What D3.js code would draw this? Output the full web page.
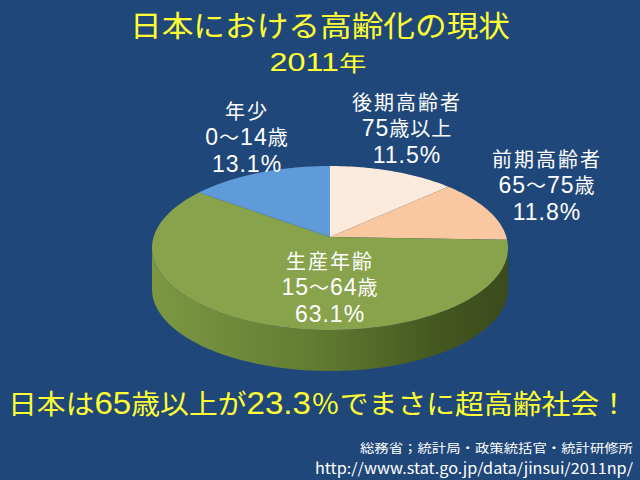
<!DOCTYPE html>
<html><head><meta charset="utf-8">
<script src="https://cdn.jsdelivr.net/npm/d3@7"></script>
<style>
html,body{margin:0;padding:0;background:#1f4779;}
svg{display:block;}
text{font-family:"Noto Sans CJK JP","Noto Sans",sans-serif;}
</style></head>
<body>
<script>
// ---- data ----
const categories = ["後期高齢者", "前期高齢者", "生産年齢", "年少"];
const ageRanges = ["75歳以上", "65～75歳", "15～64歳", "0～14歳"];
const values = [11.5, 11.8, 63.1, 13.1];
const title = "日本における高齢化の現状";
const subtitle = "2011年";
const message = "日本は65歳以上が23.3％でまさに超高齢社会！";
const sourceLines = ["総務省；統計局・政策統括官・統計研修所", "http://www.stat.go.jp/data/jinsui/2011np/"];

// ---- styles ----
const colors = ["#fcebdd", "#f9c8a0", "#89a24c", "#5f9bd8"];
const W = 640, H = 480;
const cx = 330, cy = 248, rx = 178, ry = 82, depth = 41;
const apex = [330, 237];
const labelPos = [[407, 103], [547, 160], [330, 262], [247, 112]];
const LATIN = "'Liberation Sans', Arial, sans-serif";

const svg = d3.select("body").append("svg").attr("width", W).attr("height", H);
svg.append("rect").attr("width", W).attr("height", H).attr("fill", "#1f4779");

const defs = svg.append("defs");
const grad = defs.append("linearGradient").attr("id", "side").attr("x1", "0").attr("x2", "1").attr("y1", "0").attr("y2", "0");
grad.append("stop").attr("offset", "0").attr("stop-color", "#7d9843");
grad.append("stop").attr("offset", "0.45").attr("stop-color", "#627c33");
grad.append("stop").attr("offset", "0.8").attr("stop-color", "#45571f");
grad.append("stop").attr("offset", "1").attr("stop-color", "#3c4a1d");

const pie = d3.pie().sort(null).value(d => d);
const arcs = pie(values);

const pt = (a, dy = 0) => [cx + rx * Math.sin(a), cy - ry * Math.cos(a) + dy];
function arcPoints(a0, a1, dy) {
  const n = Math.max(2, Math.ceil(Math.abs(a1 - a0) / 0.02));
  return d3.range(n + 1).map(i => pt(a0 + (a1 - a0) * i / n, dy));
}
const line = d3.line();

// side walls (front half)
arcs.forEach((d, i) => {
  const a0 = Math.max(d.startAngle, Math.PI / 2), a1 = Math.min(d.endAngle, 3 * Math.PI / 2);
  if (a1 <= a0) return;
  const top = arcPoints(a0, a1, 0);
  const bot = arcPoints(a1, a0, depth);
  svg.append("path").attr("d", line(top.concat(bot)) + "Z")
    .attr("fill", i === 2 ? "url(#side)" : d3.color(colors[i]).darker(1));
});

// top faces
arcs.forEach((d, i) => {
  const pts = [apex].concat(arcPoints(d.startAngle, d.endAngle, 0));
  svg.append("path").attr("d", line(pts) + "Z").attr("fill", colors[i]);
});

// helper: split text into ASCII runs (Latin font, bigger) and CJK runs
function addRuns(sel, s, cjkSize, latinSize) {
  const parts = s.match(/[\x20-\x7E]+|[^\x20-\x7E]+/g) || [];
  parts.forEach(p => {
    const ascii = /^[\x20-\x7E]+$/.test(p);
    sel.append("tspan")
      .attr("font-size", ascii ? latinSize : cjkSize)
      .attr("font-family", ascii ? LATIN : null)
      .text(p);
  });
}

// labels
const fmt = d3.format(".1f");
arcs.forEach((d, i) => {
  const [x, y] = labelPos[i];
  const lines = [categories[i], ageRanges[i], fmt(values[i]) + "%"];
  lines.forEach((s, k) => {
    const t = svg.append("text").attr("x", x).attr("y", y + k * 26.3 + 7)
      .attr("text-anchor", "middle").attr("fill", "#ffffff").attr("font-size", 20)
      .attr("letter-spacing", k === 0 ? 2 : 1);
    addRuns(t, s, 20, 23);
  });
});

// title
svg.append("text").attr("x", 320).attr("y", 37).attr("text-anchor", "middle")
  .attr("fill", "#ffff33").attr("font-size", 29).attr("textLength", 380).attr("lengthAdjust", "spacingAndGlyphs")
  .text(title);
const st = svg.append("text").attr("x", 318).attr("y", 71).attr("text-anchor", "middle")
  .attr("fill", "#ffff33").attr("textLength", 97).attr("lengthAdjust", "spacingAndGlyphs");
addRuns(st, subtitle, 22, 26);

// message
const mt = svg.append("text").attr("x", 318).attr("y", 414).attr("text-anchor", "middle")
  .attr("fill", "#ffff33").attr("textLength", 620).attr("lengthAdjust", "spacingAndGlyphs");
addRuns(mt, message, 27, 31);

// source
svg.append("text").attr("x", 633).attr("y", 453).attr("text-anchor", "end")
  .attr("fill", "#ffffff").attr("font-size", 12).attr("textLength", 273).attr("lengthAdjust", "spacingAndGlyphs")
  .text(sourceLines[0]);
svg.append("text").attr("x", 633).attr("y", 474).attr("text-anchor", "end")
  .attr("fill", "#ffffff").attr("font-size", 15).attr("font-family", LATIN)
  .attr("textLength", 318).attr("lengthAdjust", "spacingAndGlyphs")
  .text(sourceLines[1]);
</script>
</body></html>
